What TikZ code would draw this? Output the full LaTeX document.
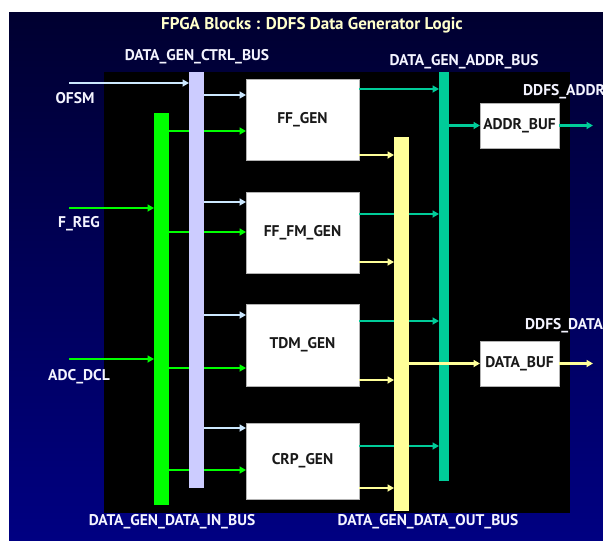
\documentclass[tikz,border=0pt]{standalone}
\usepackage{fontspec}
\setmainfont{PT Sans}
\usetikzlibrary{arrows.meta}
\definecolor{navytop}{HTML}{000030}
\definecolor{navybot}{HTML}{000082}
\definecolor{lav}{HTML}{CCCCFF}
\definecolor{lavarrow}{HTML}{CCE8FF}
\definecolor{grn}{HTML}{00FF00}
\definecolor{teal}{HTML}{00CC99}
\definecolor{yel}{HTML}{FFFF99}
\definecolor{titlecol}{HTML}{FFFFCC}
\definecolor{labcol}{HTML}{F4F4FF}
\tikzset{
  bus/.style={inner sep=0pt, outer sep=0pt, draw=none},
  block/.style={fill=white, draw=black!30, line width=0.6pt, inner sep=0pt, outer sep=0pt,
    font=\bfseries\fontsize{15.5}{17}\selectfont, text=black!90},
  lbl/.style={text=labcol, font=\bfseries\fontsize{15.5}{17}\selectfont, inner sep=0pt},
  arr/.style={line width=2.2pt, -{Triangle[length=6.5pt,width=7pt]}},
}
\begin{document}
\begin{tikzpicture}[x=1pt,y=-1pt]
\useasboundingbox (0,0) rectangle (603,541);
\fill[white] (0,0) rectangle (603,541);
\clip (0,0) rectangle (603,541);
\shade[top color=navytop, bottom color=navybot] (9,12) rectangle (603,541);
\fill[black] (104,72) rectangle (570,513);

% title
\node[text=titlecol, font=\bfseries\fontsize{17}{19}\selectfont, inner sep=0pt] (title) at (312,25) {FPGA Blocks : DDFS Data Generator Logic};

% blocks
\node[block, minimum width=113pt, minimum height=81pt] (ff) at (302.5,119.5) {FF\_GEN};
\node[block, minimum width=113pt, minimum height=81pt] (ffm) at (302.5,232.5) {FF\_FM\_GEN};
\node[block, minimum width=113pt, minimum height=82pt] (tdm) at (302.5,345) {TDM\_GEN};
\node[block, minimum width=113pt, minimum height=76pt] (crp) at (302.5,461) {CRP\_GEN};
\node[block, minimum width=79pt, minimum height=45pt] (abuf) at (519.5,125.5) {ADDR\_BUF};
\node[block, minimum width=79pt, minimum height=45pt] (dbuf) at (519.5,363.5) {DATA\_BUF};

% data in bus
\node[bus, fill=grn, minimum width=15pt, minimum height=392pt] (inbus) at (161.5,309) {};
% green arrows (behind ctrl bus)
\foreach \b/\y in {ff/131, ffm/232, tdm/368, crp/470}
  \draw[arr, grn] (inbus.east |- 0,\y) -- (\b.west |- 0,\y);
% ctrl bus
\node[bus, fill=lav, minimum width=15pt, minimum height=416pt] (ctrl) at (196.5,280) {};
\foreach \b/\y in {ff/95, ffm/202, tdm/315, crp/428}
  \draw[arr, lavarrow] (ctrl.east |- 0,\y) -- (\b.west |- 0,\y);

% inputs
\coordinate (ofsmS) at (69,83);
\coordinate (fregS) at (69,208);
\coordinate (adcS) at (69,359);
\draw[arr, lavarrow] (ofsmS) -- (ctrl.west |- ofsmS);
\draw[arr, grn] (fregS) -- (inbus.west |- fregS);
\draw[arr, grn] (adcS) -- (inbus.west |- adcS);
\node[lbl] (ofsm) at (75,98) {OFSM};
\node[lbl] (freg) at (79,224) {F\_REG};
\node[lbl] (adc) at (79,377) {ADC\_DCL};

% addr bus
\node[bus, fill=teal, minimum width=10pt, minimum height=409pt] (addr) at (444,276.5) {};
\foreach \b/\y in {ff/89, ffm/214, tdm/321, crp/446}
  \draw[arr, teal] (\b.east |- 0,\y) -- (addr.west |- 0,\y);
% data out bus
\node[bus, fill=yel, minimum width=15pt, minimum height=374pt] (outbus) at (401.5,324) {};
\foreach \b/\y in {ff/155, ffm/262, tdm/380, crp/488}
  \draw[arr, yel] (\b.east |- 0,\y) -- (outbus.west |- 0,\y);

% to buffers
\draw[arr, teal] (addr.east |- abuf.west) -- (abuf.west);
\draw[arr, yel] (outbus.east |- dbuf.west) -- (dbuf.west);
\coordinate (aout) at (593,125.5);
\coordinate (dout) at (593,363.5);
\draw[arr, teal] (abuf.east) -- (aout);
\draw[arr, yel] (dbuf.east) -- (dout);

% bus labels
\node[lbl] (lctrl) at (197,57) {DATA\_GEN\_CTRL\_BUS};
\node[lbl] (laddr) at (464,62) {DATA\_GEN\_ADDR\_BUS};
\node[lbl, anchor=west] (lda) at (523,92) {DDFS\_ADDR};
\node[lbl, anchor=west] (ldd) at (525,326) {DDFS\_DATA};
\node[lbl] (lin) at (172,522) {DATA\_GEN\_DATA\_IN\_BUS};
\node[lbl] (lout) at (428,522) {DATA\_GEN\_DATA\_OUT\_BUS};
\end{tikzpicture}
\end{document}
